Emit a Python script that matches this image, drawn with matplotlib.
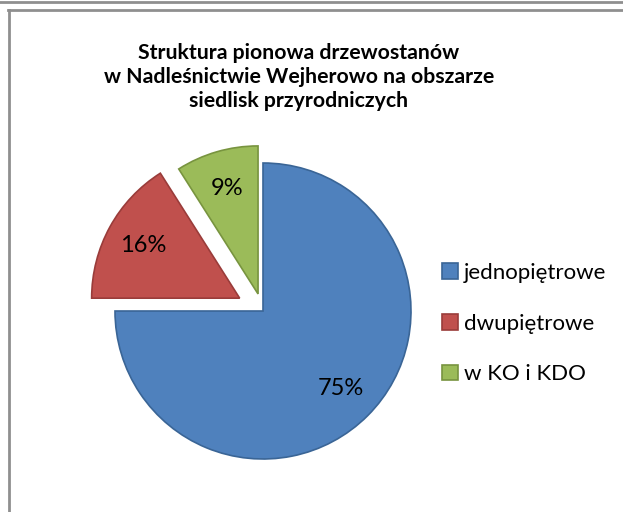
import matplotlib.pyplot as plt
from matplotlib.lines import Line2D

# Struktura pionowa drzewostanów - udziały procentowe
categories = ['jednopiętrowe', 'dwupiętrowe', 'w KO i KDO']
shares = [75, 16, 9]
colors = ['#4F81BD', '#C0504D', '#9BBB59']
edges = ['#3A6596', '#9A3C3A', '#78943F']
explode = [0, 0.18, 0.12]

title = ('Struktura pionowa drzewostanów\n'
         'w Nadleśnictwie Wejherowo na obszarze\n'
         'siedlisk przyrodniczych')

plt.rcParams['font.family'] = ['Lato', 'DejaVu Sans']

W, H = 623, 512
fig = plt.figure(figsize=(W / 100, H / 100), dpi=100)

# pie centre and radius in pixels
cx, cy, r = 263, 311, 148
lim = 1.3
side = 2 * lim * r
ax = fig.add_axes([(cx - side / 2) / W, (H - cy - side / 2) / H, side / W, side / H])

wedges, texts, autotexts = ax.pie(
    shares, explode=explode, colors=colors, startangle=90, counterclock=False,
    autopct='%.0f%%', pctdistance=0.74, radius=1,
    wedgeprops=dict(linewidth=1.2),
    textprops=dict(fontsize=17, color='black'))
for w, ec in zip(wedges, edges):
    w.set_edgecolor(ec)
ax.set_xlim(-lim, lim)
ax.set_ylim(-lim, lim)
ax.axis('off')

fig.text(299 / W, 1 - 77 / H, title, ha='center', va='center',
         fontsize=15.3, fontweight='bold', linespacing=1.28)

leg = fig.legend(wedges, categories, loc='upper left',
                 bbox_to_anchor=(422 / W, 1 - 243 / H), frameon=False,
                 fontsize=16, handlelength=0.7, handleheight=0.7,
                 handletextpad=0.3, labelspacing=1.38)

# chart frame lines
gray = '#8F8F8F'
fig.add_artist(Line2D([0, 1], [1 - 1.5 / H, 1 - 1.5 / H], color=gray, lw=2))
fig.add_artist(Line2D([8 / W, 1], [1 - 9.5 / H, 1 - 9.5 / H], color=gray, lw=2))
fig.add_artist(Line2D([8.5 / W, 8.5 / W], [0, 1 - 9.5 / H], color=gray, lw=2))

fig.savefig('out.png', dpi=100)
